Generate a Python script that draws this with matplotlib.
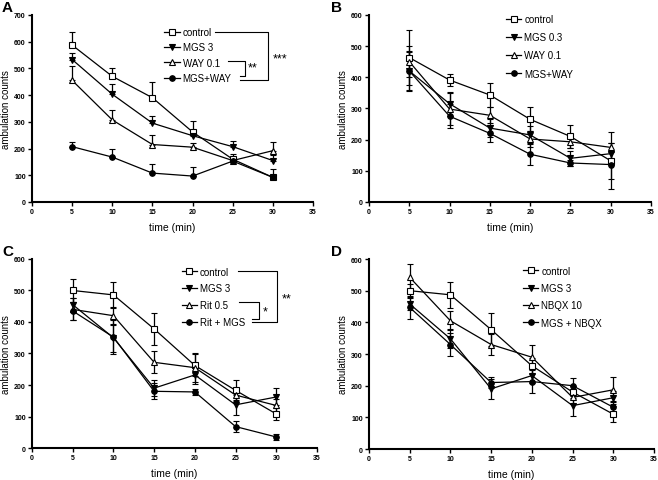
import matplotlib
matplotlib.use('Agg')
import matplotlib.pyplot as plt
from matplotlib.lines import Line2D
import numpy as np

plt.rcParams['font.family'] = ['Liberation Sans', 'DejaVu Sans']

time = [5, 10, 15, 20, 25, 30]

# panel A
a_labels = ['control', 'MGS 3', 'WAY 0.1', 'MGS+WAY']
a_vals = [[587, 470, 390, 262, 160, 92],
          [533, 403, 295, 248, 207, 155],
          [455, 307, 215, 205, 155, 192],
          [207, 168, 108, 97, 153, 92]]
a_err = [[50, 30, 58, 40, 20, 30],
         [25, 37, 25, 20, 23, 20],
         [52, 36, 37, 15, 10, 33],
         [17, 30, 34, 35, 10, 10]]

# panel B
b_labels = ['control', 'MGS 0.3', 'WAY 0.1', 'MGS+WAY']
b_vals = [[463, 391, 343, 265, 210, 132],
          [420, 315, 237, 215, 140, 155],
          [450, 298, 278, 202, 193, 175],
          [420, 275, 220, 153, 125, 120]]
b_err = [[87, 18, 40, 38, 36, 91],
         [62, 38, 30, 30, 25, 35],
         [50, 50, 25, 25, 20, 15],
         [65, 38, 28, 35, 10, 45]]

# panel C
c_labels = ['control', 'MGS 3', 'Rit 0.5', 'Rit + MGS']
c_vals = [[500, 486, 378, 262, 183, 108],
          [455, 350, 190, 232, 137, 162],
          [440, 420, 272, 255, 168, 135],
          [435, 352, 180, 178, 68, 35]]
c_err = [[38, 42, 50, 35, 32, 20],
         [20, 45, 25, 30, 32, 27],
         [35, 28, 35, 45, 20, 20],
         [30, 55, 25, 10, 17, 10]]

# panel D
d_labels = ['control', 'MGS 3', 'NBQX 10', 'MGS + NBQX']
d_vals = [[500, 487, 377, 263, 180, 110],
          [458, 348, 190, 232, 137, 162],
          [542, 405, 330, 290, 163, 187],
          [447, 330, 210, 213, 200, 132]]
d_err = [[20, 42, 52, 25, 20, 25],
         [20, 30, 32, 25, 32, 20],
         [43, 30, 33, 38, 20, 40],
         [37, 35, 18, 35, 25, 20]]

markers = [dict(marker='s', mfc='white', ms=4),
           dict(marker='v', mfc='black', ms=4.5),
           dict(marker='^', mfc='white', ms=4.5),
           dict(marker='o', mfc='black', ms=4)]


def draw(ax, vals, errs, labels, ymax, up_only, leg_xy, spacing):
    handles = []
    for v, e, lab, m in zip(vals, errs, labels, markers):
        e = np.array(e)
        yerr = [np.zeros_like(e), e] if up_only else e
        ax.errorbar(time, v, yerr=yerr, color='black', lw=0.9, elinewidth=0.9,
                    capsize=2.5, capthick=0.9, mec='black', mew=0.8, **m)
        handles.append(Line2D([], [], color='black', lw=0.9, mec='black', mew=0.8,
                              label=lab, **m))
    ax.set_xlim(0, 35)
    ax.set_ylim(0, ymax)
    ax.set_xticks(range(0, 36, 5))
    ax.set_yticks(range(0, ymax + 1, 100))
    for s in ['top', 'right']:
        ax.spines[s].set_visible(False)
    for s in ['left', 'bottom']:
        ax.spines[s].set_linewidth(1.5)
    ax.tick_params(length=3, width=1, labelsize=5, pad=1.5)
    for t in ax.get_xticklabels() + ax.get_yticklabels():
        t.set_fontweight('bold')
    ax.set_xlabel('time (min)', fontsize=7.5, labelpad=5)
    ax.set_ylabel('ambulation counts', fontsize=7, labelpad=2)
    ax.legend(handles=handles, loc='upper left', bbox_to_anchor=leg_xy, frameon=False,
              fontsize=7, handlelength=1.6, handletextpad=0.3, labelspacing=spacing,
              borderpad=0, borderaxespad=0)


def bracket(ax, pts):
    xs, ys = zip(*pts)
    ax.plot(xs, ys, color='black', lw=0.8, transform=ax.transAxes, clip_on=False)


fig = plt.figure(figsize=(6.58, 4.81), dpi=100)
axA = fig.add_axes([0.0486, 0.578, 0.4271, 0.389])
axB = fig.add_axes([0.5608, 0.578, 0.4286, 0.389])
axC = fig.add_axes([0.0486, 0.0665, 0.4332, 0.393])
axD = fig.add_axes([0.5608, 0.0644, 0.4331, 0.395])

draw(axA, a_vals, a_err, a_labels, 700, True, (0.47, 0.935), 0.55)
draw(axB, b_vals, b_err, b_labels, 600, False, (0.485, 1.005), 0.85)
draw(axC, c_vals, c_err, c_labels, 600, False, (0.525, 0.96), 0.7)
draw(axD, d_vals, d_err, d_labels, 600, False, (0.54, 0.965), 0.75)

bracket(axA, [(0.651, 0.909), (0.840, 0.909), (0.840, 0.652), (0.740, 0.652)])
bracket(axA, [(0.698, 0.754), (0.758, 0.754), (0.758, 0.674), (0.740, 0.674)])
axA.text(0.858, 0.765, '***', transform=axA.transAxes, fontsize=9, va='center')
axA.text(0.766, 0.72, '**', transform=axA.transAxes, fontsize=9, va='center')

bracket(axC, [(0.723, 0.937), (0.860, 0.937), (0.860, 0.667), (0.772, 0.667)])
bracket(axC, [(0.726, 0.772), (0.796, 0.772), (0.796, 0.683), (0.772, 0.683)])
axC.text(0.875, 0.79, '**', transform=axC.transAxes, fontsize=9, va='center')
axC.text(0.808, 0.725, '*', transform=axC.transAxes, fontsize=9, va='center')

for letter, (x, y) in zip('ABCD', [(0.003, 0.998), (0.503, 0.998), (0.003, 0.49), (0.503, 0.49)]):
    fig.text(x, y, letter, fontsize=11, fontweight='bold', va='top', ha='left')

fig.savefig('out.png', dpi=100)
